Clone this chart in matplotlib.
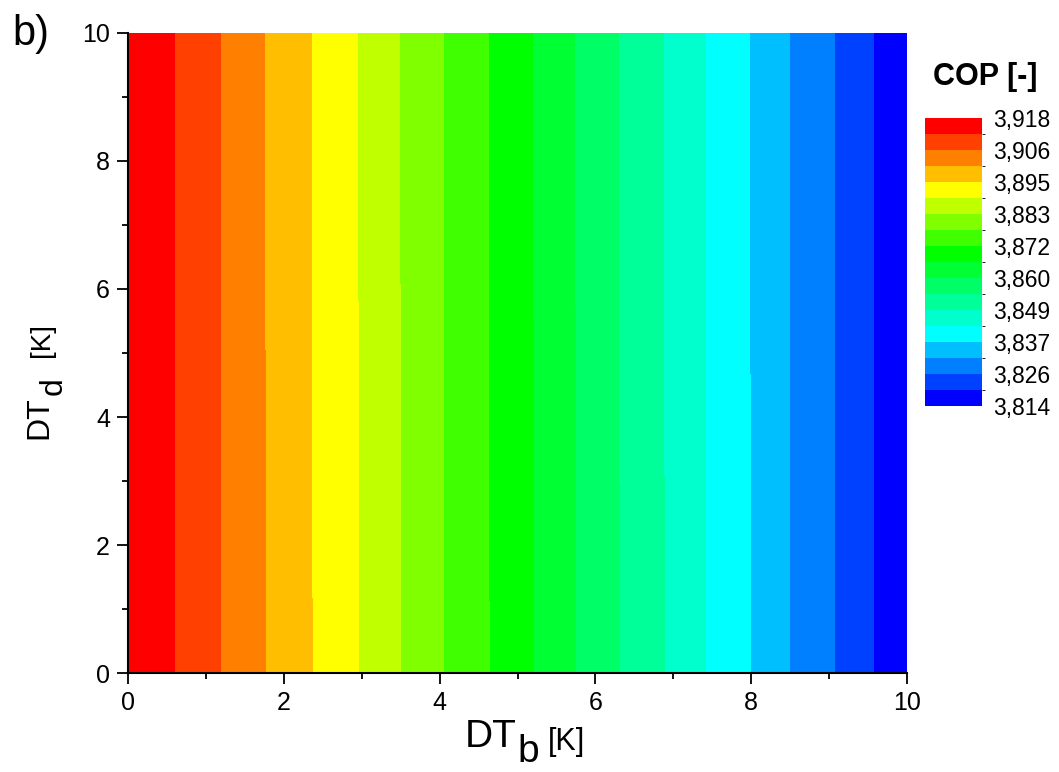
import matplotlib
matplotlib.use("Agg")
import matplotlib.pyplot as plt
from matplotlib.colors import ListedColormap, BoundaryNorm
import numpy as np

plt.rcParams['font.family'] = ['Liberation Sans', 'DejaVu Sans']

# grid: DTb along x, DTd along y
dtb = [0, 0.5, 1, 1.5, 2, 2.5, 3, 3.5, 4, 4.5, 5,
       5.5, 6, 6.5, 7, 7.5, 8, 8.5, 9, 9.5, 10]
dtd = [0, 10]
cop_bottom = [3.9180, 3.9132, 3.9084, 3.9033, 3.8983, 3.8936, 3.8887,
              3.8833, 3.8781, 3.8731, 3.8682, 3.8628, 3.8575, 3.8525,
              3.8475, 3.8420, 3.8370, 3.8313, 3.8264, 3.8206, 3.8151]
cop_top = [3.9180, 3.9132, 3.9083, 3.9032, 3.8982, 3.8935, 3.8886,
           3.8832, 3.8780, 3.8730, 3.8681, 3.8627, 3.8574, 3.8524,
           3.8474, 3.8419, 3.8369, 3.8312, 3.8263, 3.8205, 3.8150]

cop_min = 3.814
cop_max = 3.918
n_levels = 18
band_colors = ['#0000ff', '#0040ff', '#0080ff', '#00bfff', '#00ffff',
               '#00ffcc', '#00ff99', '#00ff66', '#00ff33', '#00ff00',
               '#40ff00', '#80ff00', '#bfff00', '#ffff00', '#ffbf00',
               '#ff8000', '#ff4000', '#ff0000']

levels = np.linspace(cop_min, cop_max, n_levels + 1)
cmap = ListedColormap(band_colors)
norm = BoundaryNorm(levels, cmap.N)

X, Y = np.meshgrid(dtb, dtd)
Z = np.array([cop_bottom, cop_top])

fig = plt.figure(figsize=(10.59, 7.72), dpi=100)
ax = fig.add_axes([0.1209, 0.1282, 0.7356, 0.8291])
cf = ax.contourf(X, Y, Z, levels=levels, cmap=cmap, norm=norm)

ax.set_xlim(0, 10)
ax.set_ylim(0, 10)
ax.set_xticks([0, 2, 4, 6, 8, 10])
ax.set_yticks([0, 2, 4, 6, 8, 10])
ax.set_xticks([1, 3, 5, 7, 9], minor=True)
ax.set_yticks([1, 3, 5, 7, 9], minor=True)
ax.tick_params(which='major', direction='out', length=8, width=1.3,
               labelsize=18, pad=5)
ax.tick_params(which='minor', direction='out', length=4, width=1.3)
ax.spines['top'].set_visible(False)
ax.spines['right'].set_visible(False)
ax.spines['left'].set_linewidth(1.5)
ax.spines['bottom'].set_linewidth(1.5)

# axis labels built from pieces: symbol, lowered full-size index, small unit
fig.text(465 / 1059, 1 - 747 / 772, 'DT', fontsize=28, ha='left', va='baseline')
fig.text(517 / 1059, 1 - 762 / 772, 'b', fontsize=28, ha='left', va='baseline')
fig.text(548 / 1059, 1 - 750 / 772, '[K]', fontsize=22, ha='left', va='baseline')

fig.text(47 / 1059, 1 - 439 / 772, 'DT', fontsize=23, ha='left',
         va='baseline', rotation=90, rotation_mode='anchor')
fig.text(62 / 1059, 1 - 395 / 772, 'd', fontsize=23, ha='left',
         va='baseline', rotation=90, rotation_mode='anchor')
fig.text(49 / 1059, 1 - 357 / 772, '[K]', fontsize=20, ha='left',
         va='baseline', rotation=90, rotation_mode='anchor')

fig.text(12 / 1059, 1 - 45 / 772, 'b)', fontsize=30, ha='left', va='baseline')

# colour scale
cax = fig.add_axes([925 / 1059, 1 - 406 / 772, 57 / 1059, 288 / 772])
cb = fig.colorbar(cf, cax=cax, ticks=levels[::2])
cb.outline.set_visible(False)
cb.ax.tick_params(length=0, labelsize=16.5, pad=8)
cb.ax.set_yticklabels([('%.3f' % v).replace('.', ',') for v in levels[::2]])
fig.text(985 / 1059, 1 - 77 / 772, 'COP [-]', fontsize=22, fontweight='bold',
         ha='center', va='center')

fig.savefig('out.png', dpi=100)
